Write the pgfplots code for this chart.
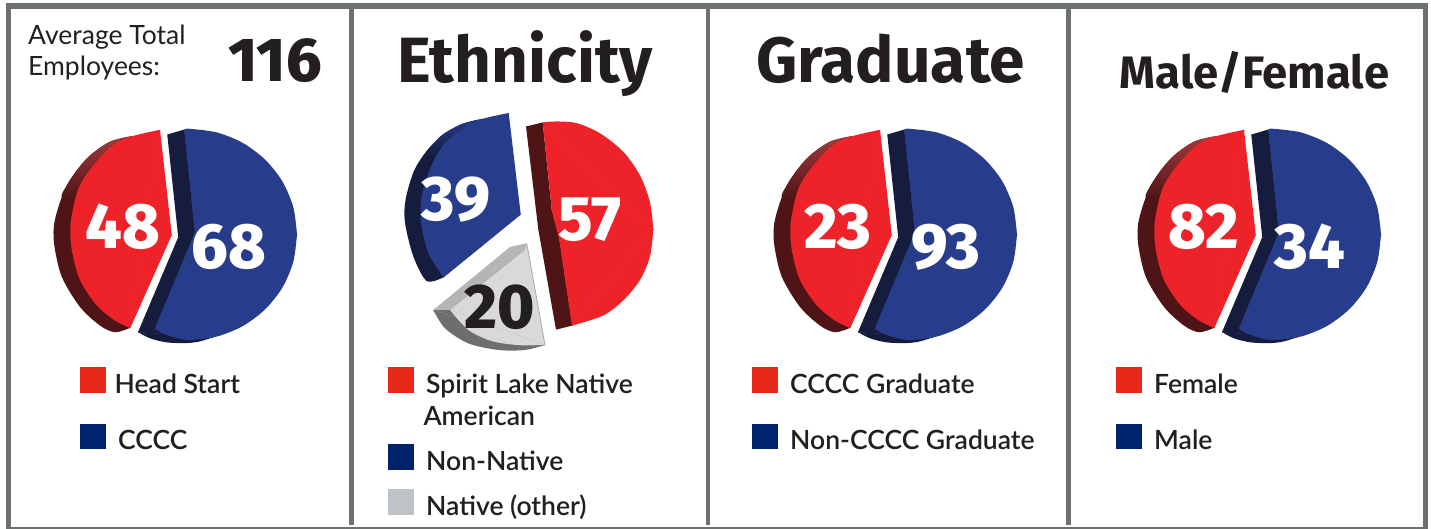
\documentclass[border=0pt]{standalone}
\usepackage{fontspec}
\usepackage{pgfplots}
\usepackage{pgfplotstable}
\pgfplotsset{compat=1.18}
\setmainfont{Lato}
\newfontfamily\firax{Fira Sans ExtraBold}
\newfontfamily\fira{Fira Sans}
\newfontfamily\latom{Lato Semibold}
\definecolor{frame}{HTML}{6B7271}
\definecolor{rface}{HTML}{EE2229}
\definecolor{rside}{HTML}{4F1416}
\definecolor{rglow}{HTML}{A33B3D}
\definecolor{bface}{HTML}{273C8A}
\definecolor{bside}{HTML}{151C3E}
\definecolor{lred}{HTML}{E8281B}
\definecolor{lblue}{HTML}{00246B}
\definecolor{lgray}{HTML}{BEC3C6}
\definecolor{ink}{HTML}{231F20}
% two-slice pie, traced in pixel units
\pgfplotstableread{
x y
133.3 134.3
110 140
86.7 156.7
66.7 183.3
55 216.7
54 240
61.7 273.3
80 303.3
100 321.7
115 328.3
130 324
}\redside
\pgfplotstableread{
x y
133.3 134.3
110 140
86.7 156.7
66.7 183.3
62 195
80 190
95 165
113 150
133 137
}\redglow
\pgfplotstableread{
x y
160 128.3
133.3 134.3
113.3 143.3
93.3 163.3
78.3 186.7
70.7 220
71.7 246.7
80 276.7
96.7 301.7
115 316.7
130 324
}\redarc
\pgfplotstableread{
x y
160 128.3
130 324
171.7 231.7
}\redcore
\pgfplotstableread{
x y
167.3 133.3
184.3 128.3
195 230
155 325
213 333.3
138.3 328.3
178.3 235
}\bluesidecore
\pgfplotstableread{
x y
138.3 328.3
150 334.3
166.7 338.3
186.7 339
200 337.3
213 333.3
}\bluesidearc
\pgfplotstableread{
x y
184.3 128.3
188.5 127.2
216.6 130.8
242.75 141.2
265.2 157.8
282.5 179.45
293.3 204.7
297 231.7
}\bluearcA
\pgfplotstableread{
x y
297 231.7
293.3 258.7
282.5 284
265.2 305.6
242.75 322.2
216.6 332.6
188.5 336
173 333
163 329.5
155 325
}\bluearcB
\pgfplotstableread{
x y
184.3 128.3
297 231.7
155 325
195 230
}\bluecore
\pgfplotsset{core/.style={fill=#1,draw=#1,line width=0.6pt,line join=round}}
\newcommand\twopie[1]{%
\addplot[fill=rside,draw=none,smooth] table[x expr=\thisrow{x}+#1,y=y]{\redside};
\addplot[shade,top color=rglow,bottom color=rside,draw=none,smooth] table[x expr=\thisrow{x}+#1,y=y]{\redglow};
\addplot[core=rface] table[x expr=\thisrow{x}+#1,y=y]{\redcore};
\addplot[fill=rface,draw=none,smooth] table[x expr=\thisrow{x}+#1,y=y]{\redarc};
\addplot[core=bside] table[x expr=\thisrow{x}+#1,y=y]{\bluesidecore};
\addplot[fill=bside,draw=none,smooth] table[x expr=\thisrow{x}+#1,y=y]{\bluesidearc};
\addplot[core=bface] table[x expr=\thisrow{x}+#1,y=y]{\bluecore};
\addplot[fill=bface,draw=none,smooth] table[x expr=\thisrow{x}+#1,y=y]{\bluearcA};
\addplot[fill=bface,draw=none,smooth] table[x expr=\thisrow{x}+#1,y=y]{\bluearcB};
}
\newcommand\swatch[4]{\addplot[fill=#1,draw=none] coordinates {(#2,#3) (#2+26,#3) (#2+26,#4) (#2,#4)};}
\newcommand\fbar[4]{\addplot[fill=frame,draw=none] coordinates {(#1,#3) (#2,#3) (#2,#4) (#1,#4)};}
\newcommand\legtext[3]{\node[anchor=base west,inner sep=0pt,text=ink,font=\latom\fontsize{26.5}{26.5}\selectfont] at (axis cs:#1,#2) {#3};}
\newcommand\val[5]{\node[anchor=center,inner sep=0pt,text=#4,font=\firax\fontsize{#5}{#5}\selectfont] at (axis cs:#1,#2) {#3};}
\begin{document}
\begin{tikzpicture}
\begin{axis}[
  scale only axis,width=1431pt,height=529pt,
  xmin=0,xmax=1431,ymin=0,ymax=522.7,y dir=reverse,
  axis lines=none,no markers,clip=true,
  every axis plot/.append style={forget plot}]
\addplot[fill=white,draw=none] coordinates {(0,0) (1431,0) (1431,522.7) (0,522.7)};
% frame
\fbar{6}{1428}{3.3}{9}
\fbar{6}{11}{3.3}{522.7}
\fbar{1423}{1428}{3.3}{522.7}
\fbar{6}{1428}{520.7}{522.7}
\fbar{348.5}{354}{3.3}{518.5}
\fbar{705.5}{710}{3.3}{518.5}
\fbar{1065.5}{1070.5}{3.3}{518.5}
% pies
\twopie{0}
\twopie{720}
\twopie{1084}
% ethnicity pie
\addplot[fill=rside,draw=none] coordinates {(526,125) (542.7,121) (551.7,206.7) (559.3,235) (572.3,321.7) (556,325.7) (538.3,226.7)};
\addplot[core=rface] coordinates {(542.7,121) (653.3,226.7) (572.3,321.7) (559.3,235) (551.7,206.7)};
\addplot[fill=rface,draw=none,smooth] coordinates {(542.7,121) (556.7,120) (576.7,121.7) (600,131.7) (623.3,150) (640,173.3) (650,200) (653.3,226.7)};
\addplot[fill=rface,draw=none,smooth] coordinates {(653.3,226.7) (650,253.3) (640,276.7) (623.3,296.7) (603.3,311.7) (572.3,321.7)};
\addplot[fill=bside,draw=none,smooth] coordinates {(483.3,117.3) (460,123.3) (433.3,141.7) (415,166.7) (405.7,196.7) (405,220) (413.3,253.3) (426.7,277.7) (443.3,274)};
\addplot[shade,top color=bface,bottom color=bside,draw=none,smooth] coordinates {(483.3,117.3) (460,123.3) (440,135) (428,152) (445,150) (483,122)};
\addplot[core=bface] coordinates {(508.7,111.7) (443.3,274) (520.7,211.7)};
\addplot[fill=bface,draw=none,smooth] coordinates {(508.7,111.7) (483.3,117.3) (463.3,126.7) (443.3,143.3) (430,166.7) (421.7,193.3) (421,220) (428.3,250) (443.3,274)};
% native (other) slice
\addplot[fill=black!57,draw=none,smooth] coordinates {(433.3,306.3) (445,324.4) (468.3,339.3) (498.3,345.8) (525,345.8) (545,340.9)};
\addplot[core=black!57] coordinates {(433.3,306.3) (450,306.3) (545,340.9)};
\addplot[core=black!15] coordinates {(450,306.3) (525,247) (526.7,240.4) (545,340.9)};
\addplot[fill=black!15,draw=none,smooth] coordinates {(450,306.3) (468.3,326) (491.7,337) (518.3,341) (545,340.9)};
\addplot[fill=black!29,draw=none] coordinates {(433.3,306.3) (510,244) (526.7,240.4) (525,247) (450,306.3)};
\addplot[draw=black!35,line width=0.7pt] coordinates {(526.7,240.4) (545,340.9)};
% legend swatches
\swatch{lred}{80}{363}{388}
\swatch{lblue}{80}{419}{444}
\swatch{lred}{387.7}{363}{388}
\swatch{lblue}{387.7}{439}{464}
\swatch{lgray}{387.7}{483}{509}
\swatch{lred}{751.7}{363}{388}
\swatch{lblue}{751.7}{419}{444}
\swatch{lred}{1115.5}{363}{388}
\swatch{lblue}{1115.5}{419}{444}
% values
\val{122.8}{224}{48}{white}{64}
\val{229}{244}{68}{white}{64}
\val{456}{197.3}{39}{white}{63}
\val{590}{216.7}{57}{white}{63}
\val{500}{303.3}{20}{ink}{63}
\val{838}{224}{23}{white}{64}
\val{946}{244.3}{93}{white}{64}
\val{1204}{224}{82}{white}{64}
\val{1310}{244}{34}{white}{64}
% titles
\val{275}{60}{116}{ink}{62}
\node[anchor=base west,inner sep=0pt,text=ink,font=\fontsize{26.5}{26.5}\selectfont] at (axis cs:28,44) {Average Total};
\node[anchor=base west,inner sep=0pt,text=ink,font=\fontsize{26.5}{26.5}\selectfont] at (axis cs:28,75) {Employees:};
\node[anchor=base,inner sep=0pt,text=ink,font=\fira\bfseries\fontsize{64}{64}\selectfont] at (axis cs:525,81.7) {Ethnicity};
\node[anchor=base,inner sep=0pt,text=ink,font=\fira\bfseries\fontsize{64}{64}\selectfont] at (axis cs:890.5,81.7) {Graduate};
\node[anchor=base,inner sep=0pt,text=ink,font=\fira\bfseries\fontsize{45.5}{45.5}\selectfont] at (axis cs:1254.5,87.3) {Male/Female};
% legend text
\legtext{114.5}{388.5}{Head Start}
\legtext{118}{444.5}{CCCC}
\legtext{426}{388.5}{Spirit Lake Native}
\legtext{423.3}{420}{American}
\legtext{426}{465}{Non-Native}
\legtext{426}{509.3}{Native (other)}
\legtext{790}{388.5}{CCCC Graduate}
\legtext{790}{444.5}{Non-CCCC Graduate}
\legtext{1154}{388.5}{Female}
\legtext{1154}{444.5}{Male}
\end{axis}
\end{tikzpicture}
\end{document}
